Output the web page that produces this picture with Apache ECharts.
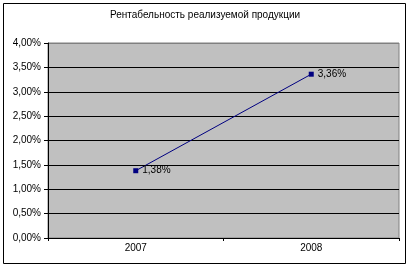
<!DOCTYPE html>
<html><head><meta charset="utf-8">
<script src="https://cdn.jsdelivr.net/npm/echarts@6/dist/echarts.min.js"></script>
<style>html,body{margin:0;padding:0;background:#fff}#c{width:410px;height:268px}</style>
</head><body><div id="c"></div>
<script>
var titleText = 'Рентабельность реализуемой продукции';
var categories = ['2007', '2008'];
var values = [1.38, 3.36];
var yMin = 0, yMax = 4, yStep = 0.5;

function fmt(v){ return v.toFixed(2).replace('.', ',') + '%'; }

var FONT = 'Liberation Sans';
var chart = echarts.init(document.getElementById('c'), null, {renderer:'canvas'});
var splitColors = [];
for (var i = 0; i <= 8; i++) splitColors.push(i === 8 ? '#808080' : '#000000');
chart.setOption({
  animation: false,
  backgroundColor: '#ffffff',
  textStyle: {fontFamily: FONT},
  title: {text: titleText, left: 'center', top: 5,
    textStyle: {fontSize: 10, fontWeight: 'normal', color: '#000', fontFamily: FONT}},
  graphic: [{type: 'rect', shape: {x: 3.5, y: 3.5, width: 402, height: 260},
    style: {fill: 'none', stroke: '#000', lineWidth: 1}, silent: true}],
  grid: {left: 48, right: 11, top: 43, bottom: 30, show: true,
    backgroundColor: '#C0C0C0', borderColor: '#808080', borderWidth: 1},
  xAxis: {type: 'category', data: categories, boundaryGap: true,
    axisLine: {lineStyle: {color: '#000', width: 1}},
    axisTick: {show: true, interval: 0, length: 3, inside: false, lineStyle: {color: '#000'}},
    axisLabel: {color: '#000', fontSize: 10, margin: 5, fontFamily: FONT}},
  yAxis: {type: 'value', min: yMin, max: yMax, interval: yStep,
    axisLine: {show: true, lineStyle: {color: '#000', width: 1}},
    axisTick: {show: true, length: 4, lineStyle: {color: '#000'}},
    axisLabel: {color: '#000', fontSize: 10, margin: 7, formatter: fmt, fontFamily: FONT},
    splitLine: {show: true, lineStyle: {color: splitColors, width: 1}}},
  series: [{type: 'line', data: values,
    symbol: 'rect', symbolSize: 5,
    itemStyle: {color: '#000080'},
    lineStyle: {color: '#000080', width: 1},
    label: {show: true, position: 'right', distance: 4, color: '#000', fontSize: 10,
      fontFamily: FONT, formatter: function(p){ return fmt(p.value); }}}]
});
</script></body></html>
